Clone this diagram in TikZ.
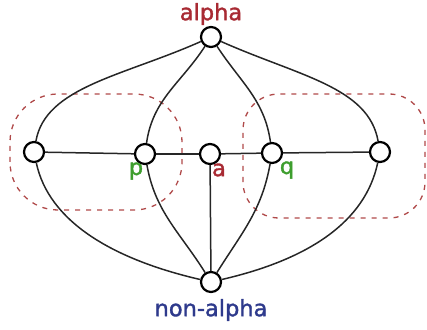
\documentclass[tikz,border=0pt]{standalone}
\usepackage{fontspec}
\setmainfont{DejaVu Sans}[FakeBold=1.5]
\definecolor{lred}{HTML}{A82A33}
\definecolor{lblue}{HTML}{2E3A8C}
\definecolor{lgreen}{HTML}{3E9E2E}
\definecolor{dred}{HTML}{B04A4A}
\begin{document}
\begin{tikzpicture}[x=1pt,y=1pt,
  vtx/.style={circle,draw=black,line width=2.2pt,fill=white,minimum size=20pt,inner sep=0pt},
  edge/.style={line width=1.5pt,black!85},
  grp/.style={draw=dred,line width=1.3pt,dash pattern=on 5pt off 6pt},
  lbl/.style={font=\fontsize{22.5}{24}\selectfont,inner sep=0pt}]
\useasboundingbox (0,0) rectangle (427,329);
% groups
\draw[grp,rounded corners=48pt] (10,119) rectangle (182,235);
\draw[grp,rounded corners=36pt] (243,111) rectangle (425,235);
% nodes
\node[vtx] (al) at (211,292) {};
\node[vtx] (L) at (34,177) {};
\node[vtx] (p) at (145,175) {};
\node[vtx] (a) at (210,175) {};
\node[vtx] (q) at (272,176) {};
\node[vtx] (R) at (380,177) {};
\node[vtx] (B) at (211,47) {};
% edges
\draw[edge] (al) to[out=204,in=80,out distance=85pt,in distance=55pt] (L);
\draw[edge] (al) to[out=-24,in=100,out distance=85pt,in distance=55pt] (R);
\draw[edge] (al) to[out=237,in=82] (p);
\draw[edge] (al) to[out=-57,in=98] (q);
\draw[edge] (B) to[out=167,in=-78,out distance=90pt,in distance=60pt] (L);
\draw[edge] (B) to[out=13,in=-102,out distance=90pt,in distance=60pt] (R);
\draw[edge] (B) to[out=122,in=-80] (p);
\draw[edge] (B) to[out=58,in=-100] (q);
\draw[edge] (B) -- (a);
\draw[edge] (L) -- (p);
\draw[edge] (p) -- (a);
\draw[edge] (a) -- (q);
\draw[edge] (q) -- (R);
% labels
\node[lbl,text=lred] (tal) at (211,315) {alpha};
\node[lbl,text=lblue] (tB) at (211,19) {non-alpha};
\node[lbl,text=lgreen] (tp) at (136,158) {p};
\node[lbl,text=lred] (ta) at (219,159) {a};
\node[lbl,text=lgreen] (tq) at (287,159) {q};
\end{tikzpicture}
\end{document}
